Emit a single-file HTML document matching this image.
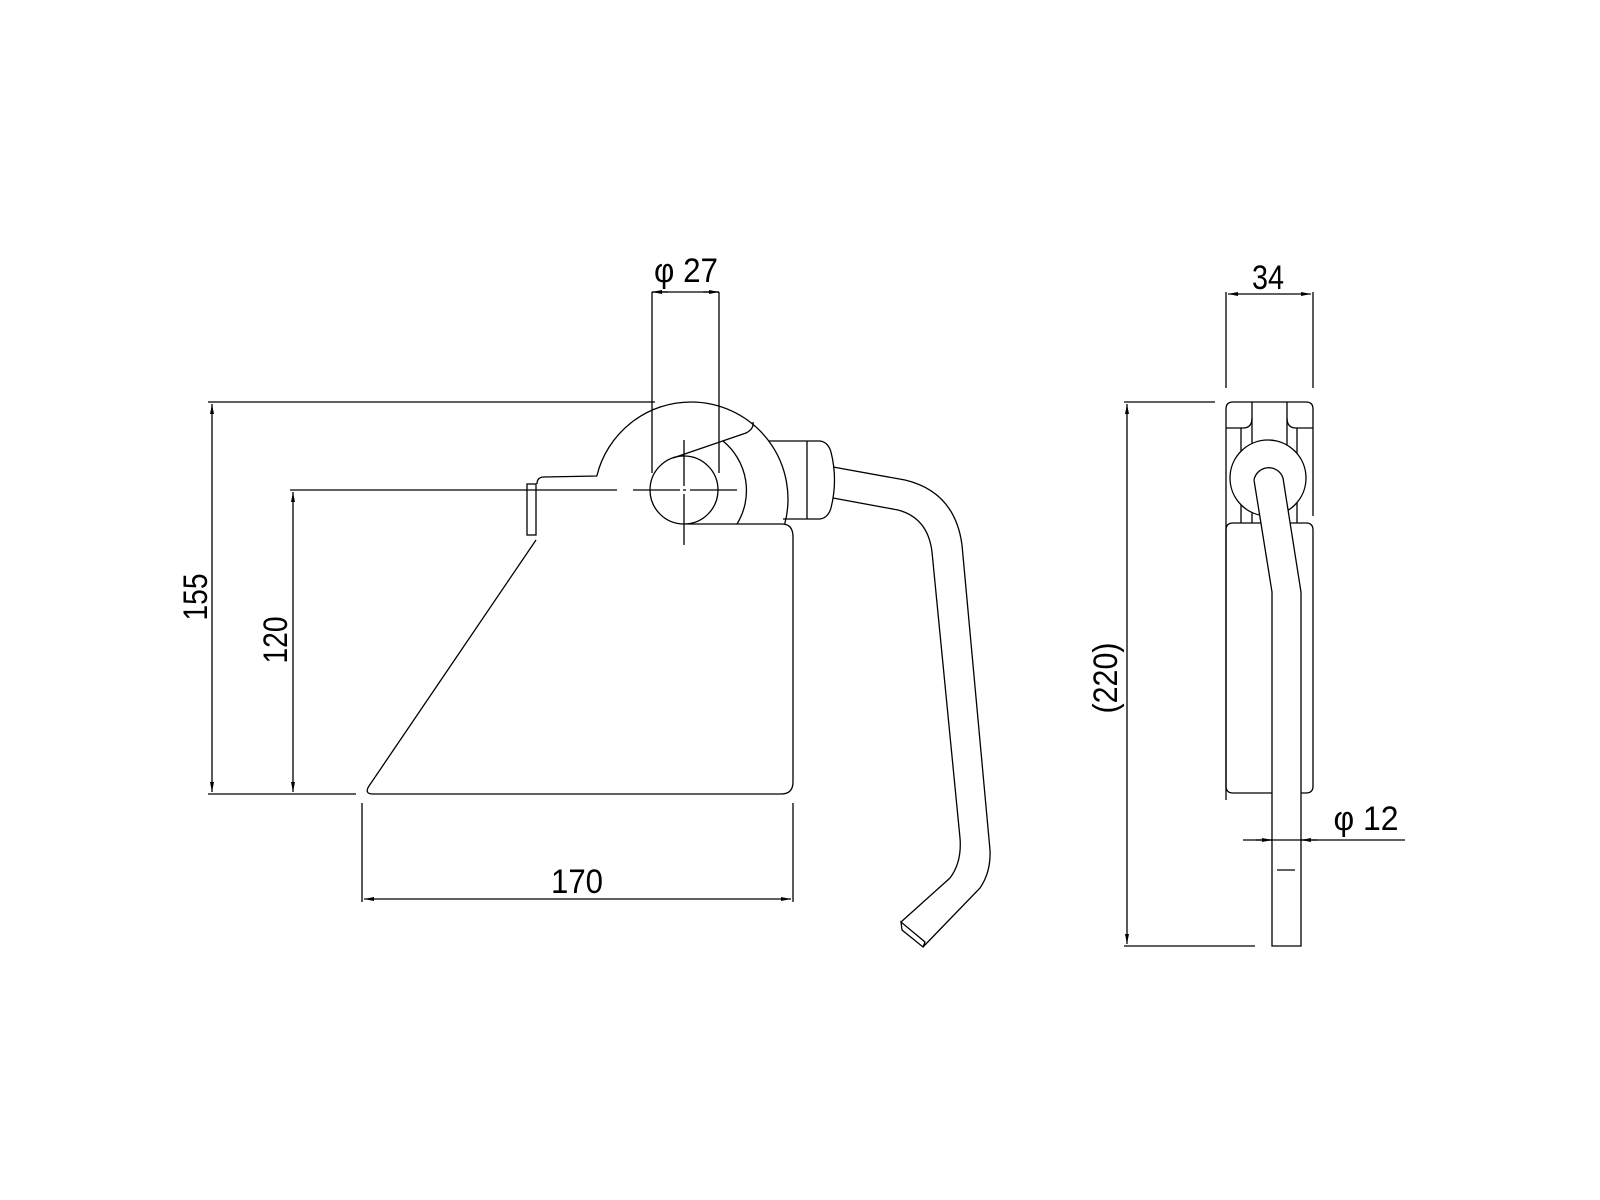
<!DOCTYPE html>
<html><head><meta charset="utf-8"><style>
html,body{margin:0;padding:0;background:#fff;}
svg{display:block;}
text{font-family:"Liberation Sans",sans-serif;fill:#000;}
</style></head><body>
<svg width="1600" height="1200" viewBox="0 0 1600 1200" xmlns="http://www.w3.org/2000/svg">
<defs>
<marker id="a" viewBox="0 0 10 4" refX="10" refY="2" markerWidth="10" markerHeight="4" markerUnits="userSpaceOnUse" orient="auto-start-reverse">
<path d="M0,0 L10,2 L0,4 Z" fill="#000"/></marker>
</defs>
<g fill="none" stroke="#000" stroke-width="1.3">
<line x1="208" y1="402" x2="655" y2="402"/>
<line x1="208" y1="794" x2="356" y2="794"/>
<line x1="212" y1="404" x2="212" y2="792" marker-start="url(#a)" marker-end="url(#a)"/>
<line x1="290" y1="490" x2="617" y2="490"/>
<line x1="293" y1="492" x2="293" y2="792" marker-start="url(#a)" marker-end="url(#a)"/>
<line x1="633" y1="490" x2="680" y2="490"/>
<line x1="683" y1="490" x2="686" y2="490"/>
<line x1="690" y1="490" x2="737" y2="490"/>
<line x1="684" y1="440" x2="684" y2="486"/>
<line x1="684" y1="494" x2="684" y2="545"/>
<line x1="652" y1="292" x2="652" y2="473"/>
<line x1="719" y1="292" x2="719" y2="473"/>
<line x1="652" y1="292" x2="719" y2="292"/>
<line x1="652" y1="292" x2="668" y2="292" marker-start="url(#a)"/>
<line x1="703" y1="292" x2="719" y2="292" marker-end="url(#a)"/>
<rect x="527" y="484" width="9" height="51"/>
<path d="M537,484 Q537,477 544,477 L596.8,476 A97,97 0 0,1 691,402 A97,97 0 0,1 784.7,524"/>
<path d="M686,524 L782,524 Q793,524 793,537 L793,782 Q793,794 781,794 L373,794 Q364,794 369,786 L536,540"/>
<circle cx="684" cy="490" r="34"/>
<path d="M673,458 L746,433 Q754,429 753,422"/>
<path d="M723,441 A64,64 0 0,1 737,524"/>
<path d="M769,441 L820,441 Q828,442 831,452 Q838,480 831,508 Q828,518 820,519 L783,519"/>
<line x1="807" y1="441" x2="807" y2="519"/>
<path d="M833,467 L905,480 Q955,492 962,545 L990,850 Q991,872 980,888 L923,947"/>
<path d="M833,498 L898,510 Q928,518 932,552 L960,838 Q962,862 950,878 L901,922"/>
<path d="M901,922 L902,930 L923,947 L925,942 Z"/>
<line x1="362" y1="803" x2="362" y2="902"/>
<line x1="793" y1="803" x2="793" y2="902"/>
<line x1="364" y1="899" x2="791" y2="899" marker-start="url(#a)" marker-end="url(#a)"/>

<line x1="1226" y1="292" x2="1226" y2="388"/>
<line x1="1313" y1="292" x2="1313" y2="388"/>
<line x1="1228" y1="294" x2="1311" y2="294" marker-start="url(#a)" marker-end="url(#a)"/>
<line x1="1124" y1="402" x2="1215" y2="402"/>
<line x1="1124" y1="946" x2="1255" y2="946"/>
<line x1="1127" y1="404" x2="1127" y2="944" marker-start="url(#a)" marker-end="url(#a)"/>
<path d="M1226,409 Q1226,402 1233,402 L1306,402 Q1313,402 1313,409 L1313,516"/>
<line x1="1226" y1="409" x2="1226" y2="516"/>
<path d="M1226,428 L1243,428 Q1252,428 1252,418 L1252,402"/>
<path d="M1313,428 L1296,428 Q1287,428 1287,418 L1287,402"/>
<line x1="1252" y1="418" x2="1252" y2="523"/>
<line x1="1287" y1="418" x2="1287" y2="523"/>
<line x1="1241" y1="428" x2="1241" y2="523"/>
<line x1="1297" y1="428" x2="1297" y2="523"/>
<path d="M1226,800 L1226,530 Q1226,523 1233,523 L1306,523 Q1313,523 1313,530 L1313,786 Q1313,793 1306,793 L1301,793"/>
<path d="M1226,516 L1226,786 Q1226,793 1233,793 L1272,793"/>
<circle cx="1268" cy="478" r="38" fill="#fff"/>
<path d="M1254,480 A15,15 0 0,1 1283,478 L1301,592 L1301,946 L1272,946 L1272,592 L1254,480" fill="#fff"/>
<line x1="1277" y1="870" x2="1295" y2="870"/>
<line x1="1243" y1="840" x2="1405" y2="840"/>
<line x1="1256" y1="840" x2="1272" y2="840" marker-end="url(#a)"/>
<line x1="1317" y1="840" x2="1301" y2="840" marker-end="url(#a)"/>
</g>
<g font-size="34">
<text x="686" y="282" text-anchor="middle" textLength="64" lengthAdjust="spacingAndGlyphs">φ 27</text>
<text x="1268" y="289" text-anchor="middle" textLength="32" lengthAdjust="spacingAndGlyphs">34</text>
<text x="577" y="893" text-anchor="middle" textLength="52" lengthAdjust="spacingAndGlyphs">170</text>
<text x="1366" y="830" text-anchor="middle" textLength="65" lengthAdjust="spacingAndGlyphs">φ 12</text>
<text transform="translate(207,597) rotate(-90)" text-anchor="middle" textLength="47" lengthAdjust="spacingAndGlyphs">155</text>
<text transform="translate(287,640) rotate(-90)" text-anchor="middle" textLength="47" lengthAdjust="spacingAndGlyphs">120</text>
<text transform="translate(1117,678) rotate(-90)" text-anchor="middle" textLength="71" lengthAdjust="spacingAndGlyphs">(220)</text>
</g>
</svg>
</body></html>
